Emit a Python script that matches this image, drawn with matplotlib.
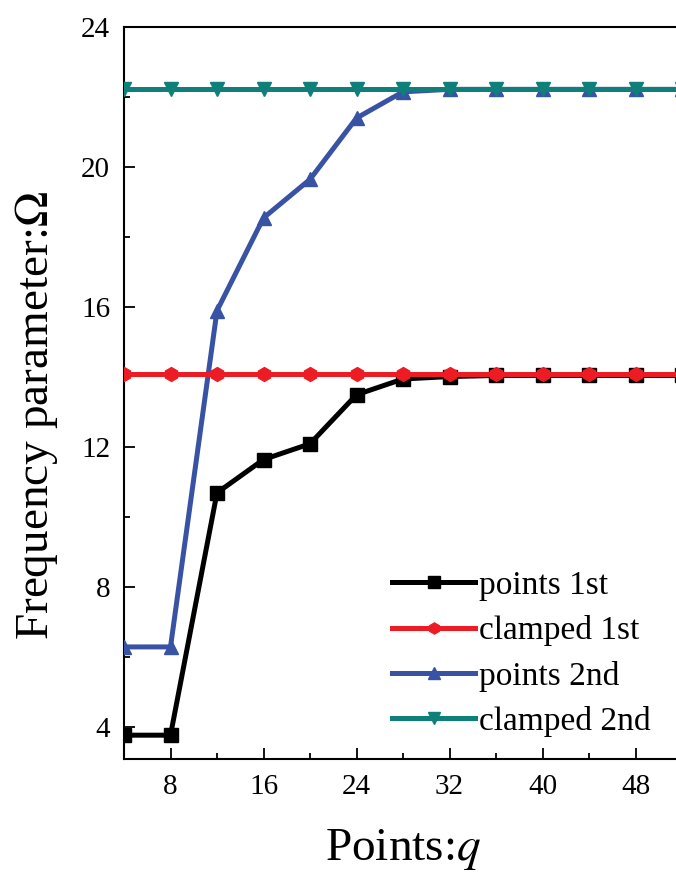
import matplotlib
matplotlib.use("Agg")
import matplotlib.pyplot as plt
from matplotlib.ticker import MultipleLocator

plt.rcParams['font.family'] = ['Liberation Serif', 'DejaVu Serif']
plt.rcParams['mathtext.fontset'] = 'stix'

q = [4, 8, 12, 16, 20, 24, 28, 32, 36, 40, 44, 48, 52]
points_1st = [3.78, 3.78, 10.7, 11.65, 12.1, 13.5, 13.95, 14.02, 14.05, 14.05, 14.05, 14.05, 14.05]
clamped_1st = [14.08] * 13
points_2nd = [6.3, 6.3, 15.9, 18.55, 19.65, 21.4, 22.15, 22.22, 22.22, 22.22, 22.22, 22.22, 22.22]
clamped_2nd = [22.22] * 13

xticks = [8, 16, 24, 32, 40, 48]
yticks = [4, 8, 12, 16, 20, 24]

fig = plt.figure(figsize=(6.76, 8.72), dpi=100)
ax = fig.add_axes([124/676, 1-759/872, 558/676, (759-27)/872])

lw = 3.6
ms = 10
ax.plot(q, points_1st, color='black', lw=lw, marker='s', ms=ms, label='points 1st', zorder=3)
ax.plot(q, clamped_1st, color='#ed1c24', lw=lw, marker='h', ms=ms, label='clamped 1st', zorder=4)
ax.plot(q, points_2nd, color='#3953a4', lw=lw, marker='^', ms=ms, label='points 2nd', zorder=3)
ax.plot(q, clamped_2nd, color='#0f7f7a', lw=lw, marker='v', ms=ms, label='clamped 2nd', zorder=4)

ax.set_xlim(4, 52)
ax.set_ylim(3.1, 24)
ax.set_xticks(xticks)
ax.set_yticks(yticks)
ax.xaxis.set_minor_locator(MultipleLocator(4))
ax.yaxis.set_minor_locator(MultipleLocator(2))
ax.tick_params(which='major', direction='in', length=8, width=1.3, labelsize=21)
ax.tick_params(which='minor', direction='in', length=4, width=1.3)
ax.tick_params(axis='x', pad=11)
ax.tick_params(axis='y', pad=10)
ax.spines['right'].set_visible(False)
for s in ['left', 'bottom', 'top']:
    ax.spines[s].set_linewidth(1.5)

ax.set_xlabel('Points:$\\mathit{q}$', fontsize=34, labelpad=19)
ax.set_ylabel('Frequency parameter:$\\mathit{\\Omega}$', fontsize=34)
ax.yaxis.set_label_coords(-0.115, 0.469)

leg = ax.legend(loc='lower left', bbox_to_anchor=((392-124)/558, 0.03), frameon=False, fontsize=24,
                handlelength=2.5, handletextpad=0.1, labelspacing=0.43, borderaxespad=0.0,
                borderpad=0.0, markerscale=0.8)

fig.savefig('out.png', dpi=100)
